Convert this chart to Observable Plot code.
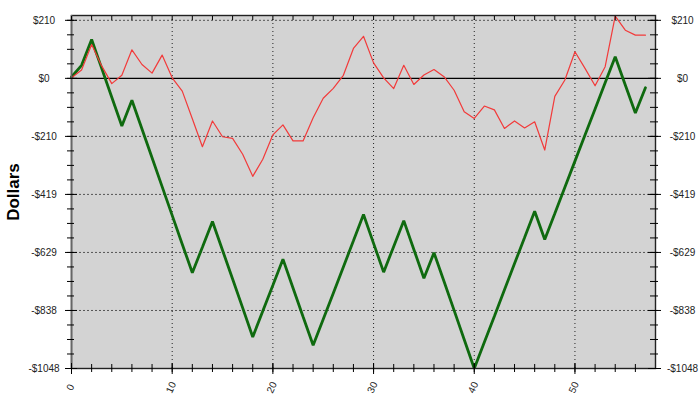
<!DOCTYPE html>
<html>
<head>
<meta charset="utf-8">
<script src="https://cdn.jsdelivr.net/npm/d3@7"></script>
<script src="https://cdn.jsdelivr.net/npm/@observablehq/plot@0.6"></script>
<style>
  html, body { margin: 0; padding: 0; background: #ffffff; }
  #chart svg { display: block; }
</style>
</head>
<body>
<div id="chart"></div>
<script>
// ---- data ----
const trades = [0,1,2,3,4,5,6,7,8,9,10,11,12,13,14,15,16,17,18,19,20,21,22,23,24,25,26,27,28,29,
  30,31,32,33,34,35,36,37,38,39,40,41,42,43,44,45,46,47,48,49,50,51,52,53,54,55,56,57];

const equityGreen = [5,47,140,36,-68,-172,-79,-183,-287,-391,-495,-599,-702,-610,-517,-621,-725,-829,-934,-840,
  -747,-653,-757,-861,-964,-870,-776,-681,-587,-492,-596,-700,-607,-514,-618,-722,-630,-734,-838,-943,
  -1048,-953,-859,-764,-669,-575,-480,-582,-488,-393,-299,-205,-111,-16,78,-24,-125,-34];

const equityRed = [2,30,122,45,-19,11,103,50,19,84,2,-46,-146,-247,-154,-211,-217,-274,-354,-292,
  -204,-168,-226,-226,-142,-72,-36,11,108,152,56,2,-37,47,-22,12,32,6,-43,-121,
  -145,-100,-114,-181,-154,-179,-157,-259,-65,-6,96,36,-27,42,225,174,156,156];

const yTickValues = [209.6, 0, -209.6, -419.2, -628.8, -838.4, -1048];
const yTickLabels = ["$210", "$0", "-$210", "-$419", "-$629", "-$838", "-$1048"];
const xTickValues = [0, 10, 20, 30, 40, 50];
const xTickLabels = ["0", "10", "20", "30", "40", "50"];
const yGridValues = [209.6, -209.6, -419.2, -628.8, -838.4];
const xGridValues = [10, 20, 30, 40, 50];
const yMinorTicks = d3.range(-1048, 227, 52.4);
const xMinorTicks = d3.range(0, 57, 2);
const yAxisTitle = "Dollars";

// ---- table built from the arrays ----
const rows = trades.map((t, i) => ({trade: t, green: equityGreen[i], red: equityRed[i]}));
const yTicks = yTickValues.map((v, i) => ({v, label: yTickLabels[i]}));
const xTicks = xTickValues.map((v, i) => ({v, label: xTickLabels[i]}));

const font = "'Liberation Sans', Arial, sans-serif";

const chart = Plot.plot({
  width: 700,
  height: 401,
  marginLeft: 71,
  marginRight: 45,
  marginTop: 15,
  marginBottom: 33,
  style: {fontFamily: font, fontSize: "10px", background: "#ffffff", color: "#111"},
  x: {domain: [0, 58], axis: null},
  y: {domain: [-1048, 227], axis: null},
  marks: [
    Plot.frame({fill: "#d3d3d3", stroke: "none"}),
    Plot.gridY(yGridValues, {stroke: "#555", strokeOpacity: 1, strokeDasharray: "2,2", strokeWidth: 1}),
    Plot.gridX(xGridValues, {stroke: "#222", strokeOpacity: 1, strokeDasharray: "1,3", strokeWidth: 1}),
    Plot.ruleY([0], {stroke: "#000", strokeWidth: 1.2}),
    Plot.line(rows, {x: "trade", y: "green", stroke: "#0f6a0f", strokeWidth: 2.8, strokeLinejoin: "miter"}),
    Plot.line(rows, {x: "trade", y: "red", stroke: "#f23a3a", strokeWidth: 1.2}),
    Plot.frame({stroke: "#222", strokeWidth: 1.4, fill: "none"}),
    Plot.ruleX([0], {stroke: "#666", strokeWidth: 1.6}),

    // bottom ticks (crossing the axis line)
    Plot.axisX(xMinorTicks, {anchor: "bottom", tickSize: 8, dy: -4, fill: "none", label: null, stroke: "#000"}),
    Plot.axisX(xTickValues, {anchor: "bottom", tickSize: 11, dy: -5, fill: "none", label: null, stroke: "#000"}),
    // top ticks (inward)
    Plot.axisX(xMinorTicks, {anchor: "top", tickSize: 4, dy: 4, fill: "none", label: null, stroke: "#000"}),
    // left ticks
    Plot.axisY(yMinorTicks, {anchor: "left", tickSize: 7, dx: 3, fill: "none", label: null, stroke: "#000"}),
    Plot.axisY(yTickValues, {anchor: "left", tickSize: 12, dx: 6, fill: "none", label: null, stroke: "#000"}),
    // right ticks
    Plot.axisY(yMinorTicks, {anchor: "right", tickSize: 8, dx: -6, fill: "none", label: null, stroke: "#000"}),
    Plot.axisY(yTickValues, {anchor: "right", tickSize: 13, dx: -8, fill: "none", label: null, stroke: "#000"}),

    // tick labels (centred on a column, as in the reference)
    Plot.text(yTicks, {y: "v", text: "label", frameAnchor: "left", dx: -27.5, textAnchor: "middle", lineAnchor: "middle", fill: "#222", fontSize: 10}),
    Plot.text(yTicks, {y: "v", text: "label", frameAnchor: "right", dx: 27, textAnchor: "middle", lineAnchor: "middle", fill: "#222", fontSize: 10}),
    Plot.text(xTicks, {x: "v", text: "label", frameAnchor: "bottom", dy: 19, dx: -1, rotate: -65, textAnchor: "middle", lineAnchor: "middle", fill: "#222", fontSize: 10}),

    // y axis title
    Plot.text([yAxisTitle], {text: d => d, frameAnchor: "left", dx: -53, rotate: -90, textAnchor: "middle", lineAnchor: "bottom", fontWeight: "bold", fontSize: 17, fill: "#000"})
  ]
});

document.getElementById("chart").appendChild(chart);
</script>
</body>
</html>
